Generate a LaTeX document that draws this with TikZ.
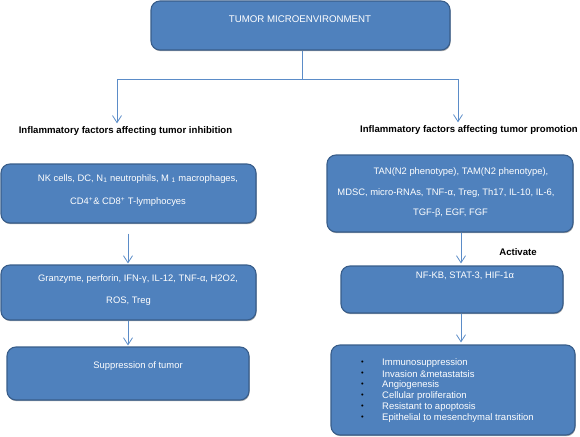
\documentclass[tikz,border=0pt]{standalone}
\usepackage{fontspec}
\setmainfont{Liberation Sans}
\usetikzlibrary{arrows.meta,shadows}
\definecolor{boxfill}{HTML}{4F81BD}
\definecolor{boxedge}{HTML}{385D8A}
\definecolor{conn}{HTML}{5B8CC8}
\tikzset{
  bx/.style={draw=boxedge,line width=1.1pt,fill=boxfill,rounded corners=9pt,
    drop shadow={shadow xshift=0.6pt,shadow yshift=-1.2pt,opacity=0.35,fill=black},
    inner sep=0pt},
  wt/.style={text=white,font=\fontsize{9.4}{11}\selectfont,inner sep=0pt},
  lbl/.style={font=\bfseries\fontsize{9.6}{11}\selectfont,inner sep=0pt},
  bul/.style={text=black,font=\fontsize{7.5}{8}\selectfont,inner sep=0pt},
  arr/.style={draw=conn,line width=0.9pt,-{Straight Barb[length=7pt,width=9pt,line width=0.8pt]}},
  ln/.style={draw=conn,line width=0.9pt}
}
\begin{document}
\begin{tikzpicture}[x=1pt,y=-1pt]
\useasboundingbox (0,0) rectangle (580,436);
% boxes
\node[bx,minimum width=299pt,minimum height=49pt] (top) at (300.5,25.5) {};
\node[wt,font=\fontsize{9.7}{11}\selectfont] (toptxt) at (300,19.5) {TUMOR MICROENVIRONMENT};

\node[lbl] (labL) at (125.5,131) {Inflammatory factors affecting tumor inhibition};
\node[lbl] (labR) at (469,130) {Inflammatory factors affecting tumor promotion};

\node[bx,minimum width=255pt,minimum height=59pt] (l1) at (128.5,193.5) {};
\node[wt] (l1a) at (138,179) {NK cells, DC, N\textsubscript{1} neutrophils, M \textsubscript{1} macrophages,};
\node[wt] (l1b) at (128,202) {CD4\textsuperscript{+}\& CD8\textsuperscript{+} T-lymphocyes};

\node[bx,minimum width=255pt,minimum height=55pt] (l2) at (128.5,292.5) {};
\node[wt] (l2a) at (138,279) {Granzyme, perforin, IFN-γ, IL-12, TNF-α, H2O2,};
\node[wt] (l2b) at (128.5,301) {ROS, Treg};

\node[bx,minimum width=242pt,minimum height=53pt] (l3) at (128,373.5) {};
\node[wt] (l3a) at (138,366) {Suppression of tumor};

\node[bx,minimum width=246pt,minimum height=77pt] (r1) at (450,193.5) {};
\node[wt] (r1a) at (461,172) {TAN(N2 phenotype), TAM(N2 phenotype),};
\node[wt] (r1b) at (446,193) {MDSC, micro-RNAs, TNF-α, Treg, Th17, IL-10, IL-6,};
\node[wt] (r1c) at (450.5,213) {TGF-β, EGF, FGF};

\node[lbl] (act) at (518,252) {Activate};

\node[bx,minimum width=222pt,minimum height=47pt] (r2) at (452,289.5) {};
\node[wt] (r2a) at (465,276) {NF-KB, STAT-3, HIF-1α};

\node[bx,minimum width=244pt,minimum height=90pt] (r3) at (453,390) {};
\foreach \yy/\tt [count=\i] in {362.7/Immunosuppression,373.8/Invasion \&metastatsis,384.9/Angiogenesis,396.0/Cellular proliferation,407.1/Resistant to apoptosis,418.2/Epithelial to mesenchymal transition}{
  \node[bul] (b\i) at (362.5,\yy) {\textbullet};
  \node[wt,anchor=west,font=\fontsize{9.5}{11}\selectfont] (bt\i) at (382,\yy) {\tt};
}

% connectors
\coordinate (jc) at (302,79);
\coordinate (jl) at (117,79);
\coordinate (jr) at (458,79);
\coordinate (lx) at (128,0);
\coordinate (rx) at (461,0);
\draw[ln] (top.south -| jc) -- (jc);
\draw[ln] (jl) -- (jr);
\draw[arr] (jl) -- ([yshift=3pt]jl |- labL.north);
\draw[arr] (jr) -- ([yshift=3pt]jr |- labR.north);
\draw[arr,shorten <=10pt,shorten >=1pt] (l1.south -| lx) -- (l2.north -| lx);
\draw[arr,shorten >=1pt] (l2.south -| lx) -- (l3.north -| lx);
\draw[arr,shorten >=2pt] (r1.south -| rx) -- (r2.north -| rx);
\draw[arr,shorten >=2pt] (r2.south -| rx) -- (r3.north -| rx);
\end{tikzpicture}
\end{document}
